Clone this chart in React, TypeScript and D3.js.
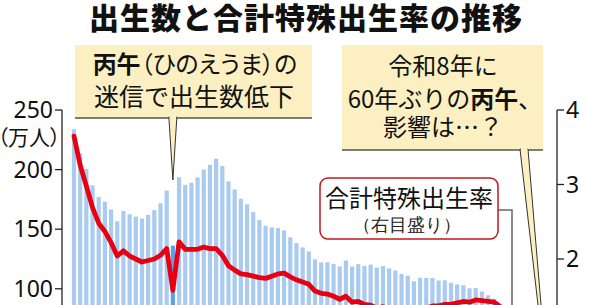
import React from "react";
import * as d3 from "d3";

const years: number[] = d3.range(1950, 2025);
// 出生数（万人）
const births: number[] = [
  233.8, 213.8, 200.5, 186.8, 177.0, 173.1, 166.5, 156.7, 165.3, 162.6,
  160.6, 158.9, 161.9, 166.0, 171.7, 182.4, 136.1, 193.6, 187.2, 188.9,
  193.4, 200.1, 203.9, 209.2, 203.0, 190.1, 183.3, 175.5, 170.9, 164.3,
  157.7, 152.9, 151.5, 150.9, 149.0, 143.2, 138.3, 134.7, 131.4, 124.7,
  122.2, 122.3, 120.9, 118.8, 123.8, 118.7, 120.7, 119.2, 120.3, 117.8,
  119.1, 117.1, 115.4, 112.4, 111.1, 106.3, 109.3, 109.0, 109.1, 107.0,
  107.1, 105.1, 103.7, 103.0, 100.4, 100.6, 97.7, 94.6, 91.8, 86.5,
  84.1, 81.2, 77.1, 72.7, 68.6,
];
// 合計特殊出生率
const tfr: number[] = [
  3.65, 3.26, 2.98, 2.69, 2.48, 2.37, 2.22, 2.04, 2.11, 2.04,
  2.0, 1.96, 1.98, 2.0, 2.05, 2.14, 1.58, 2.23, 2.13, 2.13,
  2.13, 2.16, 2.14, 2.14, 2.05, 1.91, 1.85, 1.8, 1.79, 1.77,
  1.75, 1.74, 1.77, 1.8, 1.81, 1.76, 1.72, 1.69, 1.66, 1.57,
  1.54, 1.53, 1.5, 1.46, 1.5, 1.42, 1.43, 1.39, 1.38, 1.34,
  1.36, 1.33, 1.32, 1.29, 1.29, 1.26, 1.32, 1.34, 1.37, 1.37,
  1.39, 1.39, 1.41, 1.43, 1.42, 1.45, 1.44, 1.43, 1.42, 1.36,
  1.33, 1.3, 1.26, 1.2, 1.15,
];
const leftTicks: number[] = [100, 150, 200, 250];
const rightTicks: number[] = [2, 3, 4];
const hinoeumaYear = 1966;

const FONT = "'Noto Sans CJK JP', 'Noto Sans', sans-serif";
const BOX_FILL = "#fcf0c2";
const BAR = "#a9cbf0";
const BAR_DARK = "#5e9fe6";
const RED = "#e60012";

export default function App() {
  const W = 589, H = 305;
  const x = d3.scaleBand<number>().domain(years).range([70.9, 70.9 + 75 * 6.18]).paddingInner(0.32).paddingOuter(0.16);
  const yL = d3.scaleLinear().domain([0, 250]).range([408, 110]);
  const yR = d3.scaleLinear().domain([0, 4]).range([408, 110]);
  const cx = (yr: number) => (x(yr) as number) + x.bandwidth() / 2;
  const line = d3
    .line<number>()
    .x((_, i) => cx(years[i]))
    .y((d) => yR(d))
    .curve(d3.curveLinear);

  const leftX = 62;
  const rightX = 557;
  const tipX = cx(hinoeumaYear);

  return (
    <svg width={W} height={H} style={{ position: "absolute", left: 0, top: 0, background: "#fff" }} fontFamily={FONT}>
      <rect width={W} height={H} fill="#fff" />
      {/* bars */}
      {births.map((b, i) => (
        <rect
          key={years[i]}
          x={x(years[i])}
          y={yL(b)}
          width={x.bandwidth()}
          height={yL(0) - yL(b)}
          fill={years[i] === hinoeumaYear ? BAR_DARK : BAR}
        />
      ))}
      {/* TFR line */}
      <path d={line(tfr) || ""} fill="none" stroke={RED} strokeWidth={4.8} strokeLinejoin="round" strokeLinecap="round" />

      {/* left axis */}
      <line x1={leftX} x2={leftX} y1={yL(250)} y2={420} stroke="#222" strokeWidth={1.3} />
      {leftTicks.map((t) => (
        <g key={t}>
          <line x1={leftX - 7} x2={leftX} y1={yL(t)} y2={yL(t)} stroke="#222" strokeWidth={1.3} />
          <text x={leftX - 9} y={yL(t)} dy="0.36em" textAnchor="end" fontSize={23} fill="#111" fontFamily="'Noto Sans', sans-serif">
            {t}
          </text>
        </g>
      ))}
      <text x={29} y={137} dy="0.36em" textAnchor="middle" fontSize={21} fill="#111" style={{ fontFeatureSettings: '"palt"' }}>
        （万人）
      </text>

      {/* right axis */}
      <line x1={rightX} x2={rightX} y1={yR(4)} y2={420} stroke="#222" strokeWidth={1.3} />
      {rightTicks.map((t) => (
        <g key={t}>
          <line x1={rightX} x2={rightX + 7} y1={yR(t)} y2={yR(t)} stroke="#222" strokeWidth={1.3} />
          <text x={rightX + 9} y={yR(t)} dy="0.36em" textAnchor="start" fontSize={23} fill="#111" fontFamily="'Noto Sans', sans-serif">
            {t}
          </text>
        </g>
      ))}

      {/* title */}
      <text x={306} y={18} dy="0.36em" textAnchor="middle" fontSize={30} fontWeight={900} fill="#111" letterSpacing={1}>
        出生数と合計特殊出生率の推移
      </text>

      {/* box 1 */}
      <rect x={75} y={45} width={237} height={73} fill={BOX_FILL} />
      <line x1={75} x2={312} y1={118} y2={118} stroke="#555" strokeWidth={1.5} />
      <polygon points={`${tipX - 4},117.2 ${tipX + 4},117.2 ${tipX},180`} fill={BOX_FILL} stroke="#333" strokeWidth={1} />
      <rect x={tipX - 3.2} y={116} width={6.4} height={3} fill={BOX_FILL} />
      <text x={195} y={64} dy="0.36em" textAnchor="middle" fontSize={24} fill="#111" style={{ fontFeatureSettings: '"palt"' }}>
        <tspan fontWeight={700}>丙午</tspan>
        <tspan>（ひのえうま）の</tspan>
      </text>
      <text x={194} y={97} dy="0.36em" textAnchor="middle" fontSize={25} fill="#111">
        迷信で出生数低下
      </text>

      {/* box 2 */}
      <rect x={342} y={45} width={201} height={105} fill={BOX_FILL} />
      <line x1={342} x2={543} y1={150} y2={150} stroke="#555" strokeWidth={1.5} />
      <polygon points={`520,149.2 528,149.2 549,400`} fill={BOX_FILL} stroke="#333" strokeWidth={1} />
      <rect x={521} y={148} width={6.4} height={3} fill={BOX_FILL} />
      <text x={443} y={66} dy="0.36em" textAnchor="middle" fontSize={24} fill="#111">
        令和8年に
      </text>
      <text x={445} y={99} dy="0.36em" textAnchor="middle" fontSize={24} fill="#111">
        <tspan>60年ぶりの</tspan>
        <tspan fontWeight={700}>丙午</tspan>
        <tspan>、</tspan>
      </text>
      <text x={443} y={127} dy="0.36em" textAnchor="middle" fontSize={24} fill="#111">
        影響は…？
      </text>

      {/* legend box */}
      <polyline points="498,210 512,210 512,420" fill="none" stroke="#666" strokeWidth={1.5} />
      <rect x={320} y={178} width={178} height={61} rx={8} fill="#fff" stroke="#c4161c" strokeWidth={1.5} />
      <text x={409} y={198} dy="0.36em" textAnchor="middle" fontSize={24} fill="#111">
        合計特殊出生率
      </text>
      <text x={407} y={225} dy="0.36em" textAnchor="middle" fontSize={18} fill="#222" fontFamily="'DejaVu Serif', serif">
        （右目盛り）
      </text>
    </svg>
  );
}
